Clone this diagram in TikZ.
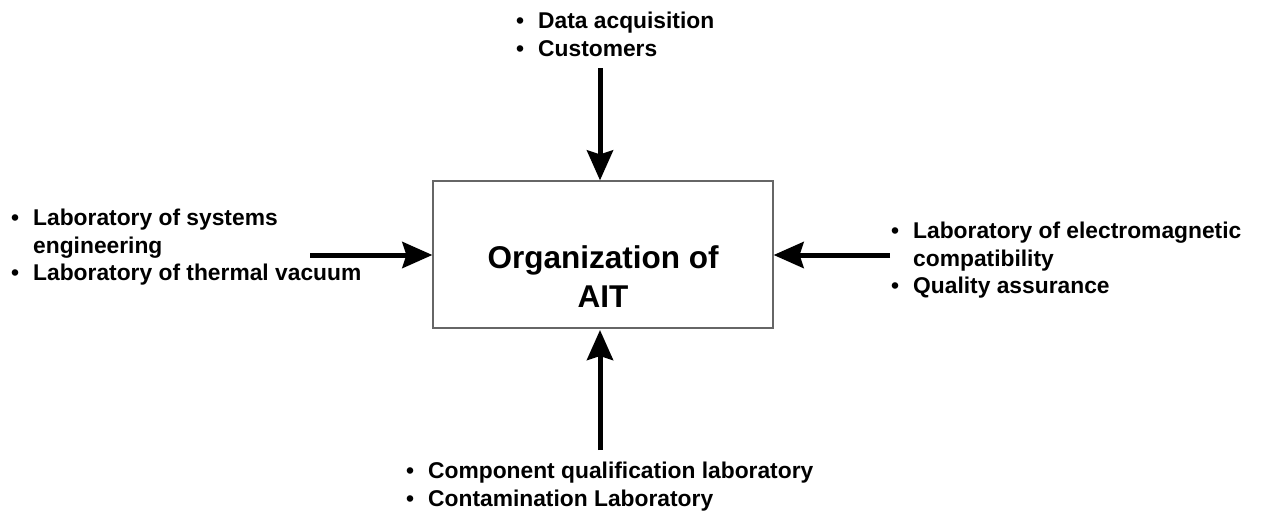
\documentclass[tikz,border=0pt]{standalone}
\usepackage{fontspec}
\setmainfont{Liberation Sans}
\usetikzlibrary{arrows.meta}
\tikzset{
  lst/.style={anchor=north west, inner sep=0pt, align=left, font=\bfseries\fontsize{22.8}{27.5}\selectfont},
  arr/.style={line width=5pt, -{Stealth[length=30pt,width=26pt,inset=4pt]}},
  mainbox/.style={draw=black!60, line width=1.2pt, minimum width=340pt, minimum height=147pt, inner sep=0pt},
  title/.style={inner sep=0pt, align=center, font=\bfseries\fontsize{31.5}{39}\selectfont}
}
\newcommand{\bl}{\makebox[22pt][l]{\textbullet}}
\begin{document}
\begin{tikzpicture}[x=1pt,y=-1pt]
\useasboundingbox (0,0) rectangle (1261,515);
\node[mainbox] (box) at (603,254.5) {};
\node[title] (ttl) at (603,277) {Organization of\\AIT};
\node[lst] (top) at (516,12) {\bl Data acquisition\\\bl Customers};
\node[lst] (left) at (11,209) {\bl Laboratory of systems\\\hspace*{22pt}engineering\\\bl Laboratory of thermal vacuum};
\node[lst] (right) at (891,222) {\bl Laboratory of electromagnetic\\\hspace*{22pt}compatibility\\\bl Quality assurance};
\node[lst] (bot) at (406,462) {\bl Component qualification laboratory\\\bl Contamination Laboratory};
\coordinate (ts) at (600,68);
\coordinate (ls) at (310,255);
\coordinate (rs) at (890,255);
\coordinate (bs) at (600,450);
\draw[arr] (ts) -- (ts |- box.north);
\draw[arr] (ls) -- (ls -| box.west);
\draw[arr] (rs) -- (rs -| box.east);
\draw[arr] (bs) -- (600,330);
\end{tikzpicture}
\end{document}
